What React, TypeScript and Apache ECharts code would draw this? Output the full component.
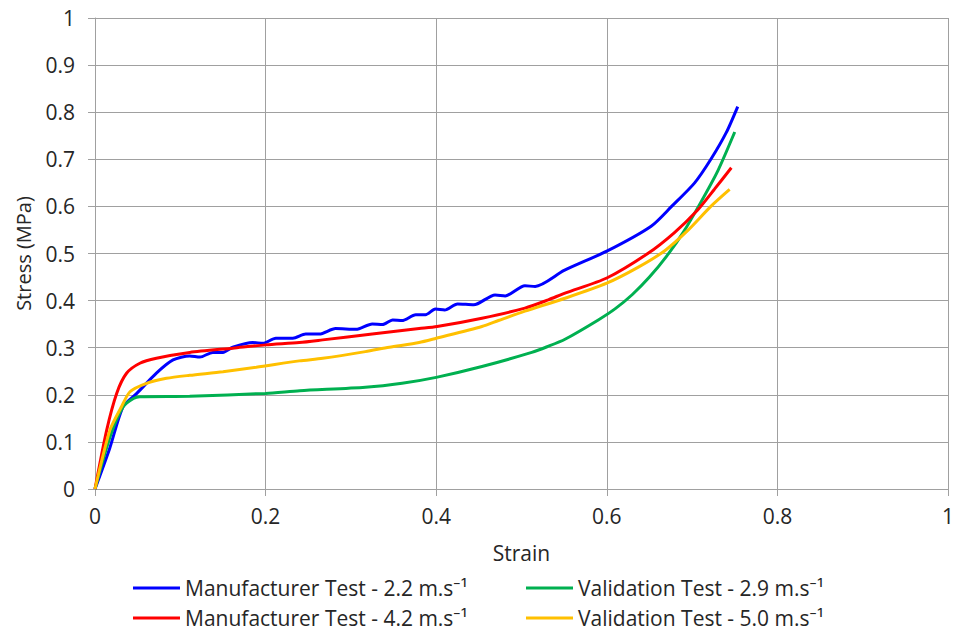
import React, { useEffect, useRef } from "react";
import * as echarts from "echarts";

// Manufacturer test at 2.2 m/s
const mfr22Strain = [0, 0.017, 0.033, 0.049, 0.072, 0.0915, 0.111, 0.123, 0.138, 0.15, 0.1615, 0.185, 0.197, 0.212, 0.232, 0.247, 0.263, 0.282, 0.306, 0.325, 0.337, 0.349, 0.36, 0.376, 0.3875, 0.399, 0.41, 0.425, 0.444, 0.469, 0.481, 0.504, 0.516, 0.55, 0.6, 0.652, 0.676, 0.703, 0.722, 0.74, 0.7535];
const mfr22Stress = [0, 0.085, 0.175, 0.203, 0.246, 0.274, 0.2825, 0.28, 0.29, 0.29, 0.301, 0.311, 0.3095, 0.32, 0.32, 0.329, 0.329, 0.3405, 0.339, 0.3505, 0.349, 0.359, 0.3575, 0.37, 0.37, 0.382, 0.38, 0.393, 0.391, 0.412, 0.41, 0.4315, 0.43, 0.464, 0.505, 0.558, 0.6, 0.65, 0.7, 0.7565, 0.812];

// Validation test at 2.9 m/s
const val29Strain = [0, 0.0175, 0.033, 0.045, 0.0526, 0.111, 0.2, 0.24, 0.317, 0.36, 0.4, 0.4536, 0.512, 0.53, 0.551, 0.59, 0.61, 0.63, 0.65, 0.67, 0.69, 0.71, 0.73, 0.75];
const val29Stress = [0, 0.11, 0.1745, 0.192, 0.196, 0.197, 0.203, 0.2086, 0.216, 0.2245, 0.237, 0.26, 0.29, 0.302, 0.318, 0.359, 0.383, 0.413, 0.45, 0.494, 0.546, 0.608, 0.675, 0.758];

// Manufacturer test at 4.2 m/s
const mfr42Strain = [0, 0.0137, 0.0254, 0.037, 0.0526, 0.072, 0.111, 0.1616, 0.2, 0.2395, 0.267, 0.325, 0.38, 0.401, 0.4536, 0.504, 0.5315, 0.551, 0.6, 0.648, 0.679, 0.7068, 0.726, 0.746];
const mfr42Stress = [0, 0.125, 0.203, 0.2457, 0.267, 0.2776, 0.29, 0.299, 0.306, 0.311, 0.3166, 0.329, 0.3406, 0.345, 0.3627, 0.384, 0.4017, 0.416, 0.448, 0.5, 0.544, 0.593, 0.636, 0.682];

// Validation test at 5.0 m/s
const val50Strain = [0, 0.0175, 0.031, 0.041, 0.0604, 0.0838, 0.111, 0.15, 0.189, 0.2395, 0.267, 0.317, 0.345, 0.38, 0.4, 0.4536, 0.473, 0.504, 0.551, 0.6, 0.637, 0.668, 0.695, 0.722, 0.744];
const val50Stress = [0, 0.125, 0.1745, 0.2065, 0.2244, 0.235, 0.2414, 0.249, 0.2584, 0.272, 0.2775, 0.2917, 0.301, 0.311, 0.32, 0.345, 0.3577, 0.3776, 0.405, 0.437, 0.471, 0.506, 0.549, 0.6, 0.636];

const seriesNames = [
  "Manufacturer Test - 2.2 m.s\u207B\u00B9",
  "Validation Test - 2.9 m.s\u207B\u00B9",
  "Manufacturer Test - 4.2 m.s\u207B\u00B9",
  "Validation Test - 5.0 m.s\u207B\u00B9",
];
const seriesColors = ["#0000FF", "#00B050", "#FF0000", "#FFC000"];

const FONT = "'Open Sans', 'Noto Sans', sans-serif";
const TEXT = "#262626";
const GRID = "#A0A0A0";

function pairs(xs: number[], ys: number[]) {
  return xs.map((x, i) => [x, ys[i]]);
}

export default function App() {
  const ref = useRef<HTMLDivElement>(null);

  useEffect(() => {
    if (!ref.current) return;
    const chart = echarts.init(ref.current, undefined, { renderer: "svg" });
    const data = [
      pairs(mfr22Strain, mfr22Stress),
      pairs(val29Strain, val29Stress),
      pairs(mfr42Strain, mfr42Stress),
      pairs(val50Strain, val50Stress),
    ];

    const legendCommon = {
      orient: "vertical" as const,
      icon: "rect",
      padding: 0,
      itemWidth: 47,
      itemHeight: 3,
      itemGap: 8,
      textStyle: { fontFamily: FONT, fontSize: 21, color: TEXT, lineHeight: 22 },
    };

    chart.setOption({
      animation: false,
      backgroundColor: "#ffffff",
      textStyle: { fontFamily: FONT },
      grid: { left: 95, right: 6, top: 18, bottom: 142 },
      legend: [
        { ...legendCommon, left: 133, top: 577, data: [seriesNames[0], seriesNames[2]] },
        { ...legendCommon, left: 526, top: 577, data: [seriesNames[1], seriesNames[3]] },
      ],
      xAxis: {
        type: "value",
        min: 0,
        max: 1,
        interval: 0.2,
        name: "Strain",
        nameLocation: "middle",
        nameGap: 53,
        nameTextStyle: { fontFamily: FONT, fontSize: 21, color: TEXT },
        axisLine: { show: true, lineStyle: { color: GRID, width: 1 } },
        axisTick: { show: true, length: 7, lineStyle: { color: GRID } },
        axisLabel: { fontFamily: FONT, fontSize: 21, color: TEXT, margin: 16 },
        splitLine: { show: true, lineStyle: { color: GRID, width: 1 } },
      },
      yAxis: {
        type: "value",
        min: 0,
        max: 1,
        interval: 0.1,
        name: "Stress (MPa)",
        nameLocation: "middle",
        nameGap: 62,
        nameRotate: 90,
        nameTextStyle: { fontFamily: FONT, fontSize: 20, color: TEXT },
        axisLine: { show: true, lineStyle: { color: GRID, width: 1 } },
        axisTick: { show: true, length: 7, lineStyle: { color: GRID } },
        axisLabel: { fontFamily: FONT, fontSize: 21, color: TEXT, margin: 20 },
        splitLine: { show: true, lineStyle: { color: GRID, width: 1 } },
      },
      series: data.map((d, i) => ({
        name: seriesNames[i],
        type: "line",
        data: d,
        showSymbol: false,
        symbol: "none",
        smooth: 0.25,
        color: seriesColors[i],
        lineStyle: { color: seriesColors[i], width: 3 },
      })),
    });

    return () => chart.dispose();
  }, []);

  return (
    <div
      ref={ref}
      style={{ position: "fixed", left: 0, top: 0, width: 957, height: 631, background: "#fff" }}
    />
  );
}
